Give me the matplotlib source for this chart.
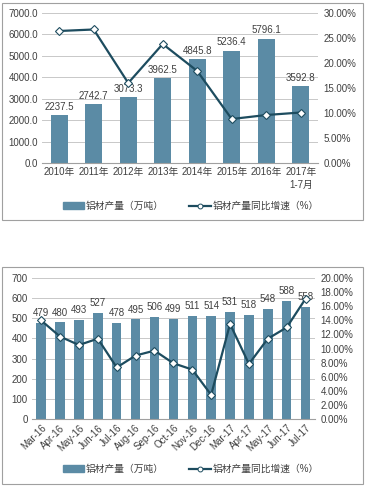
import matplotlib
matplotlib.use('Agg')
import matplotlib.pyplot as plt
from matplotlib.patches import Rectangle
from matplotlib.lines import Line2D
from matplotlib.ticker import FuncFormatter, MultipleLocator
import numpy as np

plt.rcParams['font.family'] = ['Liberation Sans', 'Noto Sans CJK SC', 'DejaVu Sans']

# annual data
years = ['2010年', '2011年', '2012年', '2013年', '2014年', '2015年', '2016年', '2017年\n1-7月']
year_output = [2237.5, 2742.7, 3073.3, 3962.5, 4845.8, 5236.4, 5796.1, 3592.8]
year_growth = [26.4, 26.7, 16.0, 23.8, 18.4, 8.8, 9.6, 10.1]

# monthly data
months = ['Mar-16', 'Apr-16', 'May-16', 'Jun-16', 'Jul-16', 'Aug-16', 'Sep-16', 'Oct-16',
          'Nov-16', 'Dec-16', 'Mar-17', 'Apr-17', 'May-17', 'Jun-17', 'Jul-17']
month_output = [479, 480, 493, 527, 478, 495, 506, 499, 511, 514, 531, 518, 548, 588, 558]
month_growth = [14.0, 11.7, 10.5, 11.4, 7.3, 9.0, 9.7, 7.9, 7.0, 3.4, 13.5, 7.8, 11.4, 13.0, 17.1]

legend_labels = ['铝材产量（万吨）', '铝材产量同比增速（%）']

bar_color = '#5b8ba5'
line_color = '#1d4c5f'
grid_color = '#c8c8c8'
txt_color = '#404040'

fig = plt.figure(figsize=(3.67, 4.9), dpi=100)


def panel(rect, cats, bars, growth, ymax, ystep, ymax2, ystep2, fmt, rot, label_off):
    ax = fig.add_axes(rect)
    x = np.arange(len(cats))
    ax.bar(x, bars, width=0.5, color=bar_color, zorder=2)
    for xi, v in zip(x, bars):
        ax.annotate(fmt % v, (xi, v), xytext=(0, label_off), textcoords='offset points',
                    ha='center', va='bottom', fontsize=7, color=txt_color, zorder=5)
    ax.set_xlim(-0.5, len(cats) - 0.5)
    ax.set_ylim(0, ymax)
    ax.yaxis.set_major_locator(MultipleLocator(ystep))
    ax.yaxis.set_major_formatter(FuncFormatter(lambda v, p: fmt % v))
    ax.grid(axis='y', color=grid_color, lw=0.7, zorder=0)
    ax.set_axisbelow(True)
    for s in ['top', 'right', 'left']:
        ax.spines[s].set_visible(False)
    ax.spines['bottom'].set_color('#a0a0a0')
    ax.spines['bottom'].set_linewidth(0.8)
    ax.tick_params(length=0, labelsize=7, colors=txt_color, pad=3)
    ax.set_xticks(x)
    if rot:
        ax.set_xticklabels(cats, rotation=45, ha='right', rotation_mode='anchor')
    else:
        ax.set_xticklabels(cats, linespacing=1.4)

    ax2 = ax.twinx()
    ax2.plot(x, growth, color=line_color, lw=1.6, marker='D', markersize=4.5,
             markerfacecolor='white', markeredgecolor=line_color, markeredgewidth=0.8,
             zorder=4)
    ax2.set_ylim(0, ymax2)
    ax2.yaxis.set_major_locator(MultipleLocator(ystep2))
    ax2.yaxis.set_major_formatter(FuncFormatter(lambda v, p: '%.2f%%' % v))
    for s in ['top', 'right', 'left', 'bottom']:
        ax2.spines[s].set_visible(False)
    ax2.tick_params(length=0, labelsize=7, colors=txt_color, pad=4)
    return ax, ax2


panel([0.1144, 0.6673, 0.752, 0.3062], years, year_output, year_growth,
      7000, 1000, 30, 5, '%.1f', False, 2.5)
panel([0.0864, 0.1455, 0.772, 0.2865], months, month_output, month_growth,
      700, 100, 20, 2, '%d', True, 3.5)

# panel frames
for y0, y1 in [(3, 220), (267, 484)]:
    fig.patches.append(Rectangle((2 / 367, 1 - y1 / 490), 361 / 367, (y1 - y0) / 490,
                                 transform=fig.transFigure, fill=False,
                                 edgecolor='#a0a0a0', lw=0.8))

# legends
handles = [Rectangle((0, 0), 1, 1, color=bar_color),
           Line2D([], [], color=line_color, lw=1.6, marker='o', markersize=3.5,
                  markerfacecolor='white', markeredgecolor=line_color, markeredgewidth=0.7)]
for yl in [206, 469]:
    fig.legend(handles, legend_labels, loc='center',
               bbox_to_anchor=(0.52, 1 - yl / 490), ncol=2, frameon=False, fontsize=7,
               handlelength=2.2, handleheight=0.6, columnspacing=2.6, handletextpad=0.2,
               labelcolor=txt_color)

fig.savefig('out.png', dpi=100)
